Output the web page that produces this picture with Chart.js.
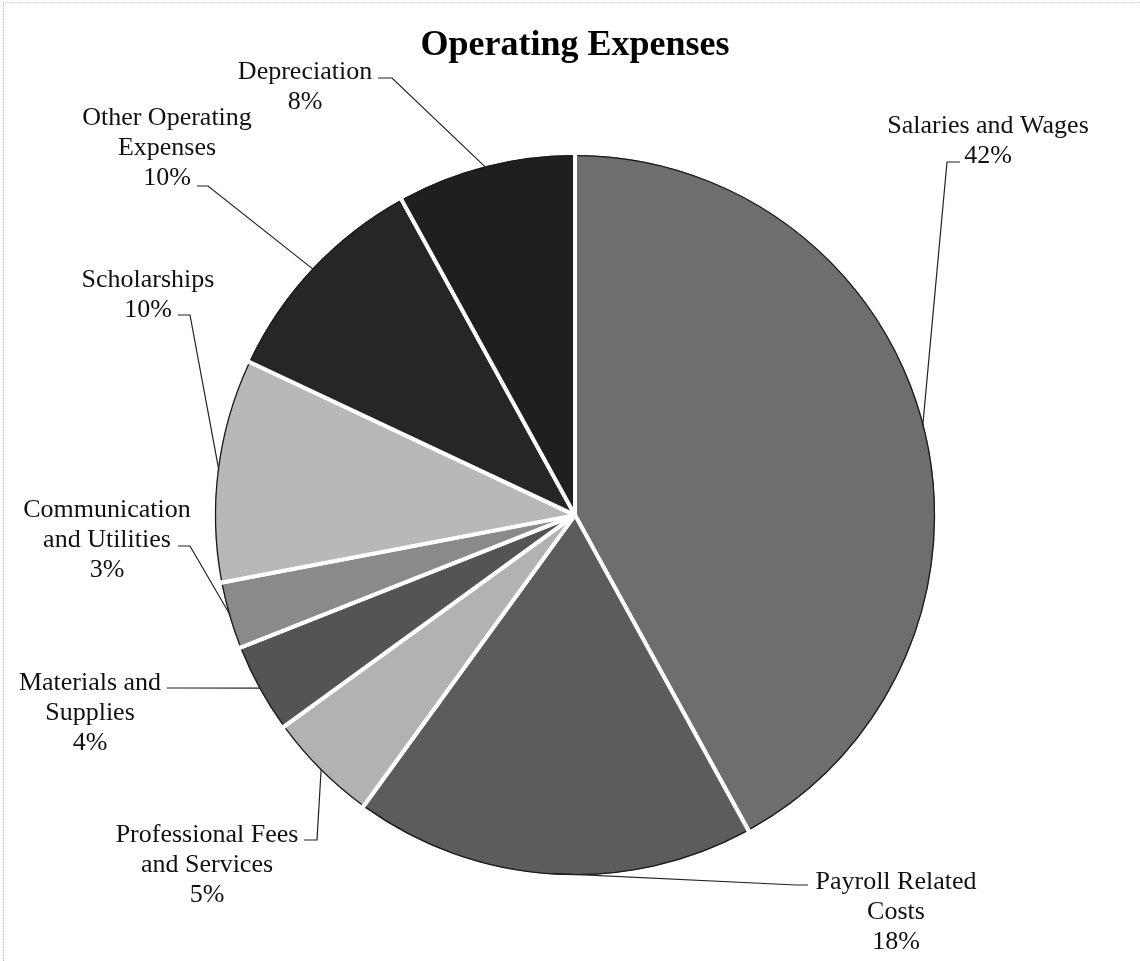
<!DOCTYPE html>
<html>
<head>
<meta charset="utf-8">
<title>Operating Expenses</title>
<script src="https://cdn.jsdelivr.net/npm/chart.js@4/dist/chart.umd.min.js"></script>
<style>
  body { margin: 0; background: #fff; }
  .wrap { position: relative; width: 1140px; height: 961px; }
  .frame { position: absolute; left: 3px; top: 2px; right: 0; bottom: 0;
           border-left: 1px dotted #b8b8b8; border-top: 1px dotted #c8c8c8; pointer-events: none; }
</style>
</head>
<body>
<div class="wrap">
  <canvas id="expensesPie" width="1140" height="961"></canvas>
  <div class="frame"></div>
</div>
<script>
// data
const categories = [
  ["Salaries and Wages"],
  ["Payroll Related", "Costs"],
  ["Professional Fees", "and Services"],
  ["Materials and", "Supplies"],
  ["Communication", "and Utilities"],
  ["Scholarships"],
  ["Other Operating", "Expenses"],
  ["Depreciation"],
];
const values = [42, 18, 5, 4, 3, 10, 10, 8];

// slice shades (scanned grey halftones)
const sliceColors = ["#6e6e6e", "#5c5c5c", "#b2b2b2", "#545454", "#8a8a8a", "#b8b8b8", "#262626", "#1f1f1f"];

// where each label sits: text centre x, first baseline y, leader start (ax, ay) and elbow x (bx)
const labelLayout = [
  { x: 988, y: 133, ax: 960, ay: 162, bx: 947 },
  { x: 896, y: 889, ax: 808, ay: 885, bx: 796 },
  { x: 207, y: 842, ax: 304, ay: 840, bx: 317 },
  { x: 90,  y: 690, ax: 167, ay: 688, bx: 182 },
  { x: 107, y: 517, ax: 178, ay: 546, bx: 190 },
  { x: 148, y: 287, ax: 178, ay: 315, bx: 190 },
  { x: 167, y: 125, ax: 197, ay: 186, bx: 208 },
  { x: 305, y: 79,  ax: 378, ay: 78,  bx: 392 },
];

const leaderLabels = {
  id: "leaderLabels",
  afterDatasetsDraw(chart) {
    const ctx = chart.ctx;
    const meta = chart.getDatasetMeta(0);
    const total = values.reduce((a, b) => a + b, 0);
    ctx.save();
    meta.data.forEach((arc, i) => {
      const p = arc.getProps(["x", "y", "startAngle", "endAngle", "outerRadius"], true);

      // thin dark rim on each slice, like the scan
      const gap = 2.5 / p.outerRadius;
      ctx.beginPath();
      ctx.arc(p.x, p.y, p.outerRadius - 2.5, p.startAngle + gap, p.endAngle - gap);
      ctx.strokeStyle = "#1a1a1a";
      ctx.lineWidth = 1.3;
      ctx.stroke();

      // leader line to the middle of the slice edge
      const mid = (p.startAngle + p.endAngle) / 2;
      const ex = p.x + Math.cos(mid) * (p.outerRadius - 3);
      const ey = p.y + Math.sin(mid) * (p.outerRadius - 3);
      const pos = labelLayout[i];
      ctx.beginPath();
      ctx.moveTo(pos.ax, pos.ay);
      ctx.lineTo(pos.bx, pos.ay);
      ctx.lineTo(ex, ey);
      ctx.strokeStyle = "#222";
      ctx.lineWidth = 1.2;
      ctx.stroke();

      // label text + percentage
      const lines = categories[i].concat([Math.round(values[i] / total * 100) + "%"]);
      ctx.fillStyle = "#111";
      ctx.font = "26px 'Liberation Serif', 'Times New Roman', serif";
      ctx.textAlign = "center";
      ctx.textBaseline = "alphabetic";
      lines.forEach((t, k) => ctx.fillText(t, pos.x, pos.y + k * 30));
    });
    ctx.restore();
  },
};

const ctx = document.getElementById("expensesPie");
// eslint-disable-next-line no-unused-vars
const expensesChart = new Chart(ctx, {
  type: "pie",
  data: {
    labels: categories,
    datasets: [
      {
        data: values,
        backgroundColor: sliceColors,
        borderColor: "#ffffff",
        borderWidth: 4,
      },
    ],
  },
  options: {
    responsive: false,
    animation: false,
    radius: 362,
    layout: { padding: { left: 10, right: 0, top: 0, bottom: 0 } },
    plugins: {
      legend: { display: false },
      tooltip: { enabled: false },
      title: {
        display: true,
        text: "Operating Expenses",
        color: "#000",
        font: { family: "'Liberation Serif', 'Times New Roman', serif", size: 36, weight: "bold" },
        padding: { top: 24, bottom: 2 },
      },
    },
  },
  plugins: [leaderLabels],
});
</script>
</body>
</html>
